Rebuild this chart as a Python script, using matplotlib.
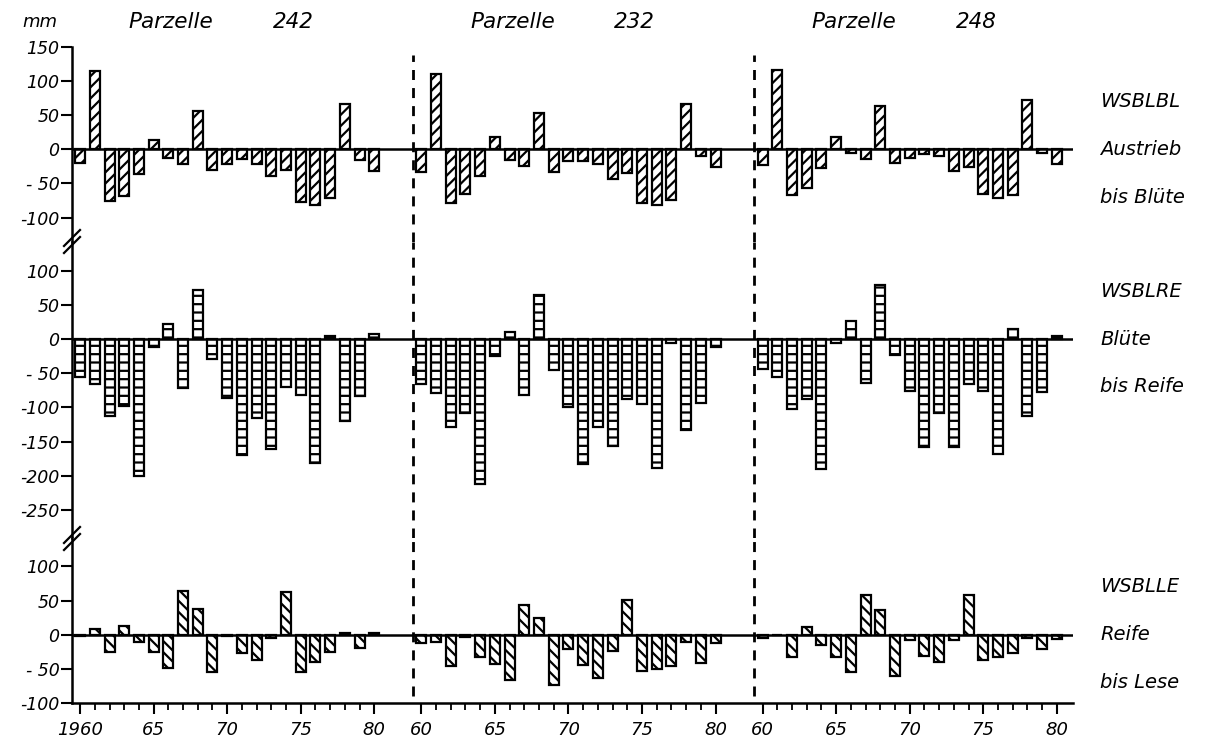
import matplotlib.pyplot as plt
from matplotlib import transforms
from matplotlib.lines import Line2D

years = list(range(1960, 1981))
parzellen = ["242", "232", "248"]

# WSBLBL - Austrieb bis Bluete (mm)
wsblbl_242 = [-20, 115, -75, -68, -36, 13, -13, -21, 56, -30, -21, -14, -21, -39, -30, -77, -81, -71, 66, -15, -32]
wsblbl_232 = [-33, 110, -78, -65, -39, 18, -15, -25, 53, -33, -17, -17, -22, -44, -35, -78, -82, -74, 66, -10, -26]
wsblbl_248 = [-23, 116, -67, -57, -28, 18, -5, -14, 64, -20, -12, -7, -10, -32, -26, -66, -71, -67, 73, -6, -22]

# WSBLRE - Bluete bis Reife (mm)
wsblre_242 = [-55, -65, -113, -98, -200, -12, 22, -72, 72, -29, -86, -170, -115, -161, -70, -82, -182, 5, -120, -84, 7]
wsblre_232 = [-66, -79, -128, -108, -212, -24, 11, -82, 64, -45, -100, -183, -129, -156, -87, -95, -189, -6, -133, -93, -11]
wsblre_248 = [-43, -56, -103, -87, -190, -6, 26, -64, 80, -23, -76, -158, -108, -158, -66, -76, -168, 15, -113, -78, 5]

# WSBLLE - Reife bis Lese (mm)
wsblle_242 = [-2, 8, -26, 13, -11, -26, -49, 64, 38, -55, -2, -27, -37, -5, 63, -55, -40, -26, 3, -20, 2]
wsblle_232 = [-12, -10, -46, -4, -33, -43, -67, 44, 24, -74, -21, -45, -63, -24, 51, -53, -50, -46, -10, -42, -12]
wsblle_248 = [-5, 0, -33, 12, -15, -33, -55, 58, 36, -60, -7, -31, -40, -8, 58, -37, -32, -27, -5, -21, -6]

panel_names = [("WSBLBL", "Austrieb", "bis Blüte"),
               ("WSBLRE", "Blüte", "bis Reife"),
               ("WSBLLE", "Reife", "bis Lese")]
panel_data = [[wsblbl_242, wsblbl_232, wsblbl_248],
              [wsblre_242, wsblre_232, wsblre_248],
              [wsblle_242, wsblle_232, wsblle_248]]
panel_ticks = [[150, 100, 50, 0, -50, -100],
               [100, 50, 0, -50, -100, -150, -200, -250],
               [100, 50, 0, -50, -100]]
panel_ylim = [(-135, 150), (-292, 143), (-100, 141)]
hatches = ["///", "--", "\\\\\\"]

GAP = 23.2  # spacing between the three parcels on the x axis


def xpos(g, y):
    return g * GAP + (y - 1960)


def ylab(v):
    if v == -50:
        return "- 50"
    return str(v)


plt.rcParams["font.family"] = "DejaVu Sans"
plt.rcParams["font.style"] = "italic"
plt.rcParams["hatch.linewidth"] = 1.6

fig = plt.figure(figsize=(12.1, 7.49), dpi=100)
gs = fig.add_gridspec(3, 1, left=0.0595, right=0.8868, top=0.9373, bottom=0.0614,
                      height_ratios=[lo_hi[1] - lo_hi[0] for lo_hi in panel_ylim], hspace=0)
axes = [fig.add_subplot(gs[i]) for i in range(3)]

for i, ax in enumerate(axes):
    for g, vals in enumerate(panel_data[i]):
        xs = [xpos(g, y) for y in years]
        ax.bar(xs, vals, width=0.68, facecolor="white", edgecolor="black",
               linewidth=1.6, hatch=hatches[i], zorder=2)
    ax.axhline(0, color="black", lw=1.8, zorder=3)
    # dashed separators between parcels
    for g in (1, 2):
        lo, hi = 0, 1
        if i == 0:
            hi = 0.96
        if i == 2:
            lo = 0.04
        ax.axvline(xpos(g, 1960) - 0.6, ymin=lo, ymax=hi, color="black", lw=2,
                   linestyle=(0, (3.6, 2.9)), zorder=1)

    ax.set_xlim(-0.55, xpos(2, 1980) + 1.1)
    ax.set_ylim(*panel_ylim[i])
    ax.set_yticks(panel_ticks[i])
    ax.set_yticklabels([ylab(v) for v in panel_ticks[i]], fontsize=12.5)
    ax.tick_params(axis="y", direction="out", length=8, width=1.5, pad=1)
    for s in ("top", "right"):
        ax.spines[s].set_visible(False)
    ax.spines["left"].set_linewidth(1.8)
    if i < 2:
        ax.spines["bottom"].set_visible(False)
        ax.tick_params(axis="x", bottom=False, labelbottom=False)

    # labels on the right
    tr = transforms.blended_transform_factory(ax.transAxes, ax.transData)
    for k, txt in enumerate(panel_names[i]):
        ax.text(1.027, 70 - k * 70, txt, transform=tr, fontsize=14,
                ha="left", va="center")

# x axis of the bottom panel
ax = axes[2]
ax.spines["bottom"].set_linewidth(1.8)
major = []
major_lab = []
minor = []
for g in range(3):
    for y in years:
        minor.append(xpos(g, y))
        if y % 5 == 0:
            major.append(xpos(g, y))
            major_lab.append("1960" if (g == 0 and y == 1960) else str(y)[2:])
ax.set_xticks(major)
ax.set_xticklabels(major_lab, fontsize=13)
ax.set_xticks(minor, minor=True)
ax.tick_params(axis="x", which="major", direction="out", length=8, width=1.5, pad=5)
ax.tick_params(axis="x", which="minor", direction="out", length=5, width=1.3)

# parcel titles
top = axes[0]
trt = transforms.blended_transform_factory(top.transData, top.transAxes)
for g, p in enumerate(parzellen):
    top.text(xpos(g, 1966.2), 1.13, "Parzelle", transform=trt, fontsize=15.5,
             ha="center", va="center")
    top.text(xpos(g, 1974.5), 1.13, p, transform=trt, fontsize=15.5,
             ha="center", va="center")
fig.text(40 / 1210, 1 - 22 / 749, "mm", fontsize=13, ha="center", va="center")

# axis break marks on the left spine
W, H = 1210, 749
for yb in (241.5, 538.5):
    for d in (-3.5, 3.5):
        x0, y0 = 64, yb + d + 8
        x1, y1 = 80, yb + d - 8
        fig.add_artist(Line2D([x0 / W, x1 / W], [1 - y0 / H, 1 - y1 / H],
                              color="black", lw=1.6, transform=fig.transFigure))

fig.savefig("out.png", dpi=100)
